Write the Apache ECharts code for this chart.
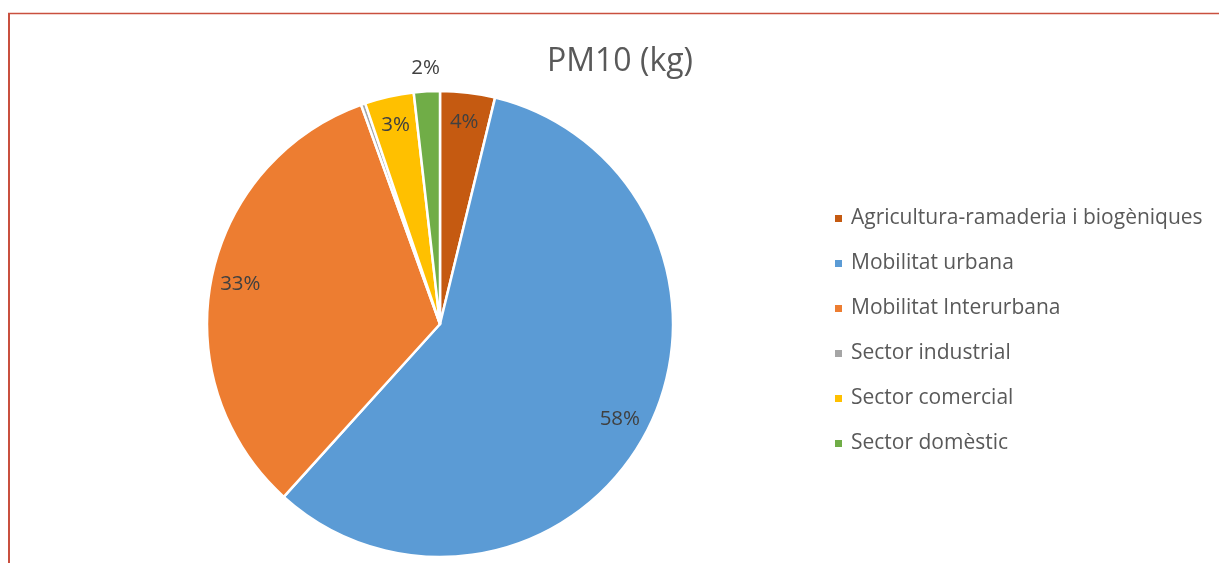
<!DOCTYPE html>
<html>
<head>
<meta charset="utf-8">
<script src="https://cdn.jsdelivr.net/npm/echarts@6/dist/echarts.min.js"></script>
<style>
html, body { margin: 0; padding: 0; background: #fff; }
#main { width: 1219px; height: 563px; }
</style>
</head>
<body>
<div id="main"></div>
<script>
// categories and shares (%)
var sectors = ['Agricultura-ramaderia i biogèniques', 'Mobilitat urbana', 'Mobilitat Interurbana',
               'Sector industrial', 'Sector comercial', 'Sector domèstic'];
var shares = [3.8, 57.9, 32.8, 0.3, 3.4, 1.8];
var colors = ['#C55A11', '#5B9BD5', '#ED7D31', '#A5A5A5', '#FFC000', '#70AD47'];

var chart = echarts.init(document.getElementById('main'));

var pieData = [];
var labelData = [];
for (var i = 0; i < sectors.length; i++) {
    pieData.push({ name: sectors[i], value: shares[i], itemStyle: { color: colors[i] } });
    var item = { name: sectors[i], value: shares[i] };
    if (sectors[i] == 'Sector industrial') item.label = { show: false };
    // too small for the slice, Excel puts it just outside
    if (sectors[i] == 'Sector domèstic') item.label = { offset: [-3, -53] };
    labelData.push(item);
}

var font = '"Open Sans", Lato, sans-serif';

chart.setOption({
    animation: false,
    title: {
        text: 'PM10 (kg)',
        left: 615,
        textAlign: 'center',
        top: 41,
        textStyle: { fontFamily: font, fontSize: 32, fontWeight: 'normal', color: '#595959' }
    },
    legend: {
        orient: 'vertical',
        left: 828,
        top: 203,
        itemWidth: 9,
        itemHeight: 9,
        itemGap: 24,
        icon: 'rect',
        data: sectors,
        textStyle: { fontFamily: font, fontSize: 21, color: '#595959', lineHeight: 21, padding: [0, 0, 0, 3] }
    },
    graphic: [
        { type: 'line', shape: { x1: 8, y1: 13.5, x2: 1219, y2: 13.5 }, style: { stroke: '#C9503F', lineWidth: 1.5 } },
        { type: 'line', shape: { x1: 9, y1: 13, x2: 9, y2: 563 }, style: { stroke: '#C9503F', lineWidth: 2 } }
    ],
    series: [
        {
            name: 'PM10',
            type: 'pie',
            center: [440, 324],
            radius: [0, 233],
            startAngle: 90,
            clockwise: true,
            label: { show: false },
            labelLine: { show: false },
            itemStyle: { borderColor: '#fff', borderWidth: 2.5 },
            emphasis: { disabled: true },
            data: pieData
        },
        {
            // transparent ring only to place the % labels near the rim
            name: 'labels',
            type: 'pie',
            center: [440, 324],
            radius: [168, 233],
            startAngle: 90,
            clockwise: true,
            silent: true,
            itemStyle: { color: 'rgba(0,0,0,0)' },
            label: {
                show: true,
                position: 'inside',
                fontFamily: font,
                fontSize: 20.5,
                color: '#404040',
                formatter: function (p) { return Math.round(p.percent) + '%'; }
            },
            labelLine: { show: false },
            emphasis: { disabled: true },
            data: labelData
        }
    ]
});
</script>
</body>
</html>
